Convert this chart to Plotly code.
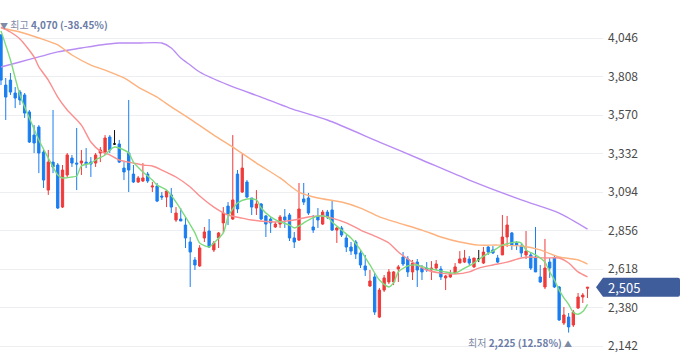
import plotly.graph_objects as go

# ---------------- data ----------------
open_ = [4065,3755,3786,3706,3712,3694,3589,3446,3496,3341,
         3106,3279,3261,3001,3199,3304,3273,3273,3279,3279,
         3273,3335,3341,3434,3391,3391,3242,3335,3205,3156,
         3162,3205,3125,3131,3069,3063,3076,2921,2927,2890,
         2785,2674,2637,2810,2853,2736,2810,2903,3007,2927,
         3205,3094,3156,3057,2995,3020,2946,2927,2878,2896,
         2940,2952,2810,2797,3051,3057,2878,2946,2896,2970,
         2983,2859,2872,2810,2754,2785,2717,2637,2513,2569,
         2321,2488,2538,2538,2618,2692,2680,2600,2661,2624,
         2624,2612,2624,2618,2563,2569,2593,2655,2661,2680,
         2631,2680,2655,2754,2736,2686,2705,2816,2841,2779,
         2760,2705,2705,2692,2569,2507,2661,2686,2507,2284,
         2321,2272,2377,2445,2499]
high = [4070,3799,3830,3743,3725,3706,3601,3508,3508,3354,
        3354,3601,3273,3261,3335,3323,3490,3354,3366,3310,
        3335,3372,3446,3446,3477,3416,3279,3663,3261,3193,
        3273,3218,3156,3150,3094,3106,3119,3001,2995,2940,
        2816,2692,2766,2878,2927,2791,2847,3001,3032,3446,
        3230,3335,3168,3057,3106,3026,2952,2940,2909,2952,
        2989,2964,2847,3150,3150,3088,2952,2995,2983,2983,
        3045,2878,2884,2828,2785,2797,2736,2705,2612,2593,
        2501,2581,2618,2606,2643,2723,2698,2674,2680,2643,
        2661,2667,2674,2637,2581,2612,2655,2729,2736,2698,
        2686,2736,2754,2760,2760,2705,2952,2946,2847,2791,
        2779,2853,2717,2878,2643,2804,2686,2705,2513,2383,
        2346,2365,2470,2470,2507]
low = [3755,3539,3694,3613,3632,3552,3397,3335,3211,3119,
       3076,3211,2989,2995,3187,3249,3106,3199,3242,3187,
       3249,3279,3323,3335,3385,3273,3168,3094,3150,3150,
       3156,3150,3094,3032,3045,3001,2964,2909,2915,2748,
       2507,2612,2631,2785,2748,2723,2748,2841,2890,2921,
       2964,3088,3057,2952,2952,2921,2816,2841,2872,2872,
       2872,2791,2748,2791,3014,2952,2841,2872,2890,2927,
       2853,2779,2816,2723,2705,2680,2624,2575,2507,2334,
       2315,2476,2525,2519,2538,2637,2569,2550,2507,2550,
       2600,2550,2612,2550,2488,2563,2587,2655,2655,2643,
       2624,2661,2649,2705,2711,2655,2705,2754,2736,2736,
       2692,2680,2612,2600,2532,2494,2563,2501,2297,2272,
       2225,2260,2371,2408,2439]
close = [3786,3681,3712,3675,3663,3582,3403,3397,3335,3168,
         3279,3249,2995,3230,3323,3273,3267,3286,3267,3267,
         3323,3354,3428,3354,3391,3279,3218,3230,3156,3181,
         3181,3162,3131,3038,3063,3100,3001,2964,2915,2810,
         2723,2643,2748,2847,2754,2779,2841,2964,2958,3045,
         2989,3242,3063,3001,3020,2927,2896,2903,2896,2940,
         2921,2810,2785,2989,3032,2964,2859,2921,2970,2940,
         2859,2872,2828,2754,2729,2711,2643,2612,2544,2352,
         2488,2563,2600,2600,2631,2649,2600,2655,2612,2600,
         2612,2624,2649,2569,2575,2587,2631,2680,2686,2655,
         2686,2680,2723,2723,2717,2661,2816,2890,2766,2766,
         2717,2729,2624,2600,2538,2624,2624,2507,2303,2334,
         2260,2352,2445,2457,2505]

# moving-average lines, sampled at candle indices
ma5_idx = [0,2,4,6,8,10,11,12,13,15,16,17,19,20,22,23,24,25,27,28,30,32,33,35,37,39,41,42,44,45,47,48,50,52,54,55,57,59,61,62,64,65,67,69,70,72,74,76,78,80,82,83,84,86,88,90,92,94,96,98,100,102,104,106,109,110,111,113,115,116,117,118,119,120,121,122,123,124]
ma5_val = [4090,3910,3694,3552,3416,3304,3249,3199,3181,3187,3193,3255,3273,3292,3323,3354,3372,3366,3335,3279,3218,3168,3137,3106,3032,2940,2841,2779,2754,2779,2841,2940,3026,3051,3045,2995,2940,2909,2890,2872,2903,2921,2946,2940,2909,2859,2810,2736,2643,2550,2507,2532,2600,2637,2643,2624,2612,2600,2593,2624,2655,2698,2729,2766,2785,2779,2736,2705,2661,2600,2550,2488,2440,2400,2350,2338,2355,2400]

ma20_idx = [0,2,4,7,8,10,12,14,17,19,21,23,25,28,30,32,34,37,40,42,45,48,51,53,58,62,65,68,70,73,76,79,82,84,87,90,93,96,99,101,104,107,110,112,115,118,120,122,124]
ma20_val = [4114,4083,4040,3929,3867,3786,3681,3601,3508,3403,3347,3323,3292,3273,3261,3255,3230,3187,3125,3069,3001,2952,2933,2921,2909,2921,2940,2946,2933,2903,2859,2822,2779,2723,2661,2612,2593,2587,2600,2624,2643,2661,2686,2692,2686,2686,2655,2600,2569]

ma60_idx = [0,4,8,12,15,19,22,26,29,33,36,40,45,49,54,59,63,67,72,76,80,84,89,93,97,101,105,110,114,118,122,124]
ma60_val = [4108,4083,4046,4003,3941,3879,3848,3799,3743,3681,3620,3545,3446,3372,3273,3181,3094,3057,3032,2995,2940,2903,2859,2816,2785,2766,2766,2760,2736,2692,2674,2649]

ma120_idx = [0,4,8,12,17,21,25,29,34,36,38,40,42,48,55,61,69,80,89,99,110,118,124]
ma120_val = [3867,3898,3929,3960,3984,4003,4015,4015,4015,3984,3922,3879,3836,3756,3681,3613,3539,3403,3292,3168,3045,2964,2865]

y_ticks = [2142, 2380, 2618, 2856, 3094, 3332, 3570, 3808, 4046]
max_label = "최고"
max_value = 4070
max_pct = "-38.45%"
min_label = "최저"
min_value = 2225
min_pct = "12.58%"

# ---------------- styling ----------------
UP = "#ef3b3b"
DOWN = "#1a7ef0"
DOJI = "#111111"
FONT = "Noto Sans CJK KR"

x_all = list(range(len(close)))
doji = [i for i in x_all if open_[i] == close[i]]
normal = [i for i in x_all if open_[i] != close[i]]

fig = go.Figure()

for idx, vals, col in [(ma120_idx, ma120_val, "#b98cf4"),
                       (ma60_idx, ma60_val, "#fdb27e"),
                       (ma20_idx, ma20_val, "#fb8e8e"),
                       (ma5_idx, ma5_val, "#7ddb7d")]:
    fig.add_trace(go.Scatter(x=idx, y=vals, mode="lines",
                             line=dict(color=col, width=1.4, shape="spline", smoothing=0.7),
                             hoverinfo="skip", showlegend=False))

fig.add_trace(go.Candlestick(
    x=[x_all[i] for i in normal],
    open=[open_[i] for i in normal], high=[high[i] for i in normal],
    low=[low[i] for i in normal], close=[close[i] for i in normal],
    increasing=dict(line=dict(color=UP, width=1), fillcolor=UP),
    decreasing=dict(line=dict(color=DOWN, width=1), fillcolor=DOWN),
    whiskerwidth=0, showlegend=False))

fig.add_trace(go.Candlestick(
    x=[x_all[i] for i in doji],
    open=[open_[i] for i in doji], high=[high[i] for i in doji],
    low=[low[i] for i in doji], close=[close[i] for i in doji],
    increasing=dict(line=dict(color=DOJI, width=1), fillcolor=DOJI),
    decreasing=dict(line=dict(color=DOJI, width=1), fillcolor=DOJI),
    whiskerwidth=0, showlegend=False))

imax = high.index(max_value)
imin = low.index(min_value)

fig.update_layout(
    width=680, height=358,
    margin=dict(l=0, r=77, t=0, b=0),
    paper_bgcolor="white", plot_bgcolor="white",
    font=dict(family=FONT),
    xaxis=dict(range=[-0.21, 127.27], visible=False, rangeslider=dict(visible=False),
               showgrid=False, zeroline=False),
    yaxis=dict(side="right", range=[2068, 4281], tickvals=y_ticks,
               ticktext=[f"{v:,}" for v in y_ticks], showgrid=True,
               gridcolor="#eceef1", gridwidth=1, zeroline=False, showline=False,
               ticks="", ticklabelstandoff=4,
               tickfont=dict(family=FONT, size=12, color="#4a4a4a")),
    showlegend=False,
)

# last price tag
last = close[-1]
fig.add_shape(type="path", xref="paper", yref="y", xsizemode="pixel", ysizemode="pixel",
              xanchor=1, yanchor=last,
              path="M -7,0 L 0,9.5 L 75,9.5 Q 77,9.5 77,7.5 L 77,-7.5 Q 77,-9.5 75,-9.5 L 0,-9.5 Z",
              fillcolor="#3f5c9b", line=dict(width=0), layer="above")
fig.add_annotation(x=1, xref="paper", y=last, yref="y", xanchor="left", yanchor="middle",
                   xshift=3, text=f"{last:,}", showarrow=False,
                   font=dict(family=FONT, size=13, color="white"))

# high / low markers
fig.add_annotation(x=imax, y=max_value, xref="x", yref="y", xanchor="left", yanchor="middle",
                   xshift=-3, yshift=10, showarrow=False,
                   text=(f"<span style='color:#7f8aa4;font-size:8px'>▼</span> "
                         f"<span style='color:#7f8aa4'>{max_label}</span> "
                         f"<b>{max_value:,} ({max_pct})</b>"),
                   font=dict(family=FONT, size=10, color="#6b7ca6"))
fig.add_annotation(x=imin, y=min_value, xref="x", yref="y", xanchor="right", yanchor="middle",
                   xshift=5, yshift=-10, showarrow=False,
                   text=(f"<span style='color:#7f8aa4'>{min_label}</span> "
                         f"<b>{min_value:,} ({min_pct})</b> "
                         f"<span style='color:#7f8aa4;font-size:8px'>▲</span>"),
                   font=dict(family=FONT, size=10, color="#6b7ca6"))

fig.write_html("out.html", config={"displayModeBar": False},
               post_script="document.body.style.margin='0';document.body.style.overflow='hidden';")
